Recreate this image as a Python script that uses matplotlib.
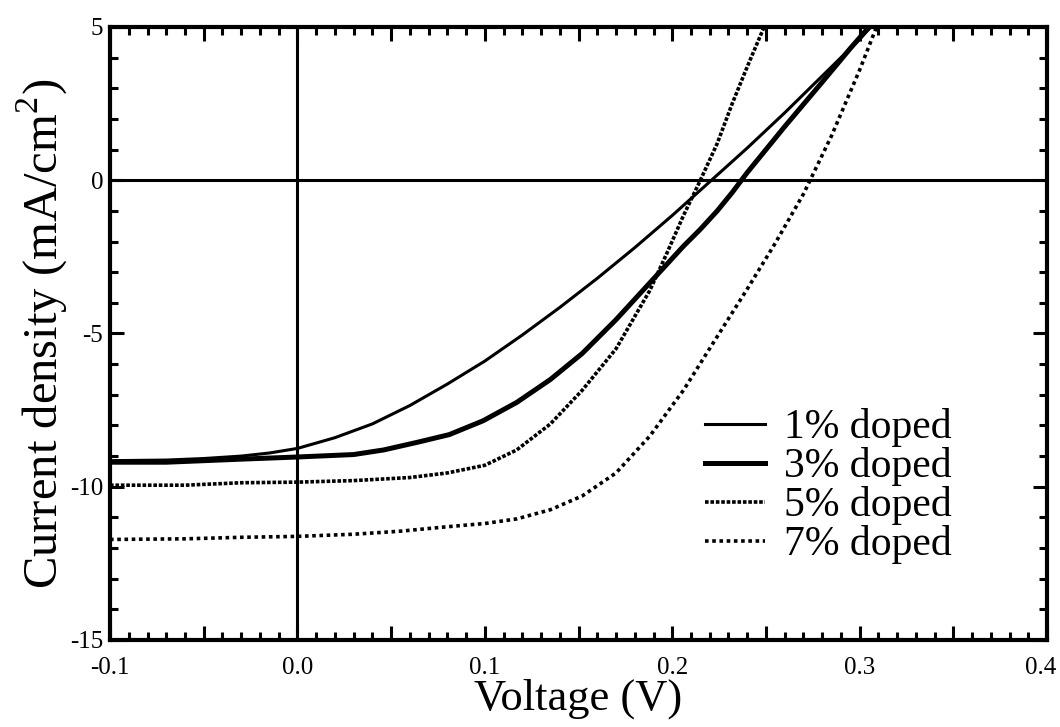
import matplotlib
matplotlib.use("Agg")
import matplotlib.pyplot as plt
import matplotlib.transforms as mtransforms
from matplotlib.ticker import MultipleLocator, FuncFormatter

plt.rcParams['font.family'] = ['Liberation Serif', 'DejaVu Serif']
plt.rcParams['mathtext.fontset'] = 'custom'
plt.rcParams['mathtext.rm'] = 'Liberation Serif'
plt.rcParams['axes.unicode_minus'] = False

# ---- data ----
v1 = [-0.1, -0.07, -0.05, -0.03, -0.015, 0.0, 0.02, 0.04, 0.06, 0.08, 0.10, 0.12, 0.14,
      0.16, 0.18, 0.20, 0.22, 0.24, 0.26, 0.28, 0.30, 0.306]
j1 = [-9.15, -9.13, -9.08, -9.0, -8.9, -8.75, -8.4, -7.95, -7.35, -6.65, -5.9, -5.05, -4.15,
      -3.2, -2.2, -1.15, -0.05, 1.05, 2.2, 3.4, 4.6, 5.0]

v3 = [-0.1, -0.07, -0.05, -0.03, 0.0, 0.03, 0.046, 0.064, 0.081, 0.099, 0.117, 0.135, 0.152,
      0.17, 0.188, 0.206, 0.215, 0.224, 0.232, 0.24, 0.25, 0.26, 0.28, 0.295, 0.305]
j3 = [-9.2, -9.2, -9.15, -9.1, -9.03, -8.95, -8.8, -8.55, -8.3, -7.85, -7.25, -6.5, -5.65,
      -4.55, -3.35, -2.15, -1.6, -1.0, -0.4, 0.25, 1.0, 1.75, 3.2, 4.3, 5.0]

v5 = [-0.1, -0.06, -0.03, 0.0, 0.03, 0.06, 0.08, 0.10, 0.117, 0.135, 0.152, 0.17,
      0.188, 0.197, 0.206, 0.215, 0.224, 0.232, 0.24, 0.249]
j5 = [-9.95, -9.95, -9.87, -9.85, -9.8, -9.7, -9.55, -9.3, -8.8, -7.95, -6.85, -5.5,
      -3.6, -2.4, -1.15, 0.0, 1.2, 2.5, 3.7, 5.0]

v7 = [-0.1, -0.06, -0.03, 0.0, 0.03, 0.055, 0.081, 0.1, 0.117, 0.135, 0.152, 0.17, 0.188,
      0.206, 0.224, 0.24, 0.255, 0.27, 0.285, 0.30, 0.309]
j7 = [-11.72, -11.7, -11.65, -11.62, -11.55, -11.45, -11.3, -11.2, -11.05, -10.75, -10.3,
      -9.55, -8.35, -6.85, -5.1, -3.55, -2.05, -0.45, 1.45, 3.6, 5.0]

labels = ['1% doped', '3% doped', '5% doped', '7% doped']

fig = plt.figure(figsize=(10.6, 7.27), dpi=100)
ax = fig.add_axes([0.1038, 0.1197, 0.884, 0.8432])

ax.axhline(0, color='black', lw=2.2, zorder=1)
ax.axvline(0, color='black', lw=2.2, zorder=1)

ax.plot(v1, j1, color='black', lw=2.2, ls='-', label=labels[0])
ax.plot(v3, j3, color='black', lw=3.6, ls='-', label=labels[1])
ax.plot(v5, j5, color='black', lw=2.6, ls=(0, (1.0, 0.5)), label=labels[2])
ax.plot(v7, j7, color='black', lw=2.6, ls=(0, (1.0, 1.0)), label=labels[3])

ax.set_xlim(-0.1, 0.4)
ax.set_ylim(-15, 5)

ax.xaxis.set_major_locator(MultipleLocator(0.05))
ax.xaxis.set_minor_locator(MultipleLocator(0.01))
ax.yaxis.set_major_locator(MultipleLocator(5))
ax.yaxis.set_minor_locator(MultipleLocator(1))

def xfmt(val, pos):
    k = round(val * 20)
    if k % 2 == 0:
        return '%.1f' % val
    return ''
ax.xaxis.set_major_formatter(FuncFormatter(xfmt))
ax.yaxis.set_major_formatter(FuncFormatter(lambda v, p: '%d' % round(v)))

ax.tick_params(which='both', direction='in', top=True, right=True, width=2.2, color='black')
ax.tick_params(which='major', length=10, labelsize=18)
ax.tick_params(which='minor', length=5.5)
ax.tick_params(axis='x', which='major', pad=12)
ax.tick_params(axis='y', which='major', pad=5)

for s in ax.spines.values():
    s.set_linewidth(3)

ax.set_xlabel('Voltage (V)', fontsize=32, labelpad=0)
ax.set_ylabel(r'Current density (mA/cm$^{\mathrm{2}}$)', fontsize=35, labelpad=0)

leg = ax.legend(loc='upper left', bbox_to_anchor=(0.617, 0.405), frameon=False,
                fontsize=30, handlelength=1.45, handletextpad=0.45, labelspacing=0.0,
                borderaxespad=0)

fig.canvas.draw()
shift = mtransforms.ScaledTranslation(-6 / 100, 0, fig.dpi_scale_trans)
for t in ax.get_xticklabels():
    if t.get_text() == '0.4':
        t.set_transform(t.get_transform() + shift)

fig.savefig('out.png', dpi=100)
